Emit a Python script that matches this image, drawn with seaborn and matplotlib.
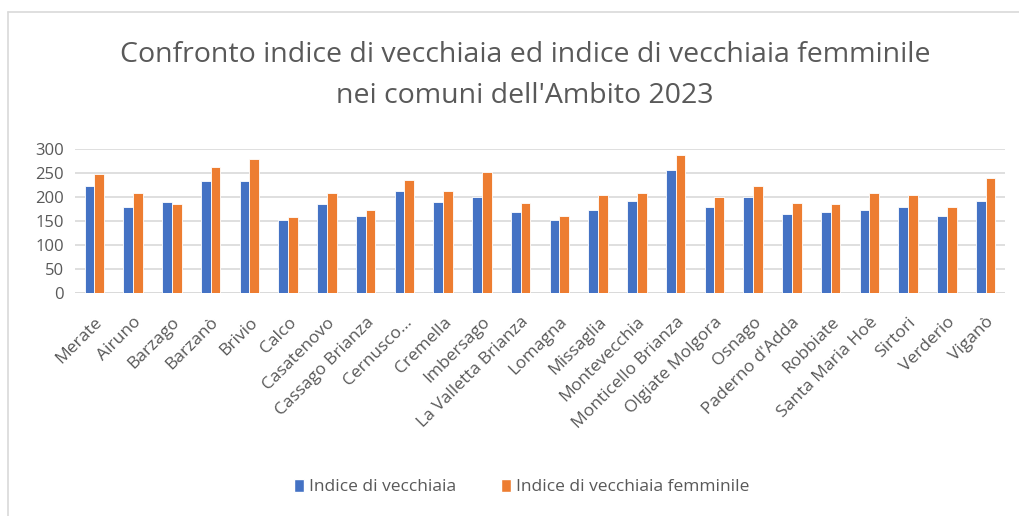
import numpy as np
import pandas as pd
import matplotlib
matplotlib.use("Agg")
import matplotlib.pyplot as plt
import seaborn as sns
from matplotlib.lines import Line2D
from matplotlib.patches import Patch

comuni = ["Merate", "Airuno", "Barzago", "Barzanò", "Brivio", "Calco", "Casatenovo",
          "Cassago Brianza", "Cernusco...", "Cremella", "Imbersago", "La Valletta Brianza",
          "Lomagna", "Missaglia", "Montevecchia", "Monticello Brianza", "Olgiate Molgora",
          "Osnago", "Paderno d'Adda", "Robbiate", "Santa Maria Hoè", "Sirtori", "Verderio",
          "Viganò"]
indice = [223, 180, 189, 232, 232, 153, 185, 161, 212, 189, 200, 169,
          153, 173, 192, 255, 180, 200, 165, 169, 173, 180, 161, 192]
indice_f = [248, 208, 185, 263, 279, 158, 208, 173, 235, 212, 251, 188,
            161, 204, 208, 286, 200, 223, 188, 185, 208, 204, 180, 239]
series_names = ["Indice di vecchiaia", "Indice di vecchiaia femminile"]
yticks = [0, 50, 100, 150, 200, 250, 300]
title = "Confronto indice di vecchiaia ed indice di vecchiaia femminile\nnei comuni dell'Ambito 2023"

df = pd.DataFrame({
    "Comune": comuni * 2,
    "Valore": indice + indice_f,
    "Serie": [series_names[0]] * len(comuni) + [series_names[1]] * len(comuni),
})

sns.set_style("white")
plt.rcParams['font.family'] = ['Open Sans', 'DejaVu Sans']
gray = "#595959"
colors = ["#4472C4", "#ED7D31"]

W, H = 1019, 516
fig = plt.figure(figsize=(W / 100, H / 100), dpi=100)
ax = fig.add_axes([75 / W, (H - 293.3) / H, (1005 - 75) / W, (293.3 - 148.7) / H])

sns.barplot(data=df, x="Comune", y="Valore", hue="Serie", palette=colors,
            width=0.5, ax=ax, legend=False, edgecolor="white", linewidth=0.6,
            saturation=1)

ax.set_ylim(0, 300)
ax.set_yticks(yticks)
ax.set_xlim(-0.5, len(comuni) - 0.5)
ax.yaxis.grid(True, color="#D9D9D9", linewidth=1.2)
ax.set_axisbelow(True)
for s in ax.spines.values():
    s.set_visible(False)
ax.axhline(0, color="#D9D9D9", linewidth=1.2, zorder=0.5)
ax.set_xlabel("")
ax.set_ylabel("")
ax.tick_params(axis="y", labelsize=12, colors=gray, length=0, pad=8)
ax.tick_params(axis="x", labelsize=12.5, colors=gray, length=0, pad=15)
for lab in ax.get_xticklabels():
    lab.set_rotation(45)
    lab.set_ha("right")
    lab.set_rotation_mode("anchor")

fig.suptitle(title, y=1 - 41 / H, fontsize=20.5, color=gray, linespacing=1.62,
             va="top", x=525 / W)

handles = [Patch(facecolor=c, label=n) for c, n in zip(colors, series_names)]
leg = fig.legend(handles=handles, loc="center", bbox_to_anchor=(522 / W, 1 - 487 / H),
                 ncol=2, frameon=False, fontsize=12.5, handlelength=0.55, handleheight=0.8,
                 handletextpad=0.3, columnspacing=2.6)
for t in leg.get_texts():
    t.set_color(gray)

# chart frame
fig.add_artist(Line2D([8 / W, 8 / W], [0, 1 - 12 / H], transform=fig.transFigure,
                      color="#D9D9D9", linewidth=1.2))
fig.add_artist(Line2D([8 / W, 1], [1 - 12 / H, 1 - 12 / H], transform=fig.transFigure,
                      color="#D9D9D9", linewidth=1.2))

fig.savefig("out.png", dpi=100, facecolor="white")
